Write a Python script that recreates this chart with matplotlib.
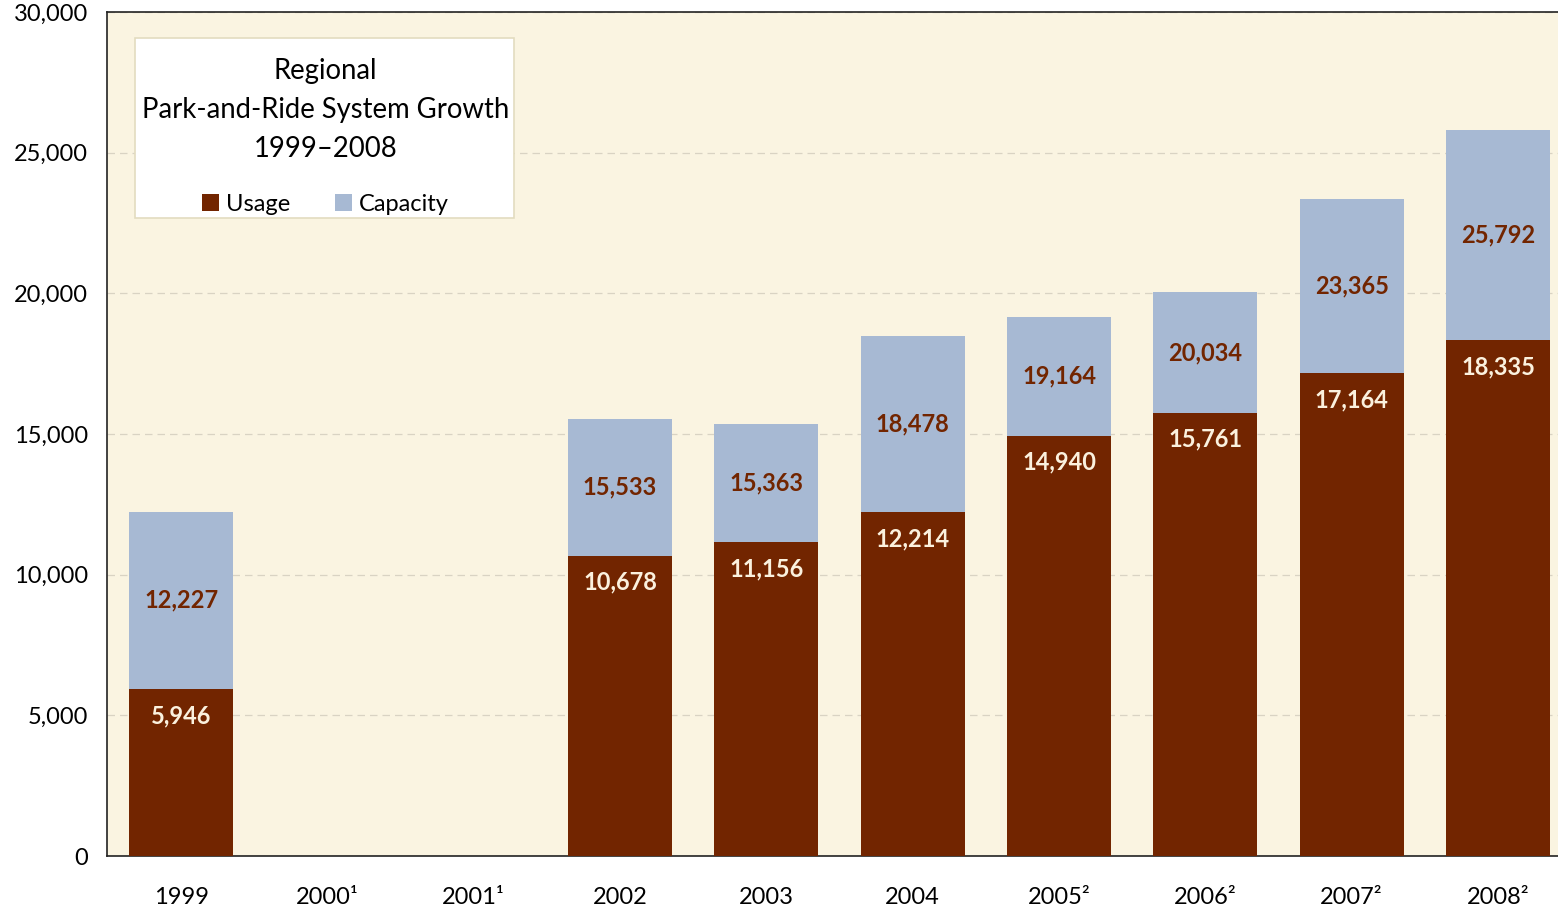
import numpy as np
import matplotlib.pyplot as plt
from matplotlib.patches import Rectangle

years = ['1999', '2000¹', '2001¹', '2002', '2003', '2004', '2005²', '2006²', '2007²', '2008²']
usage = [5946, np.nan, np.nan, 10678, 11156, 12214, 14940, 15761, 17164, 18335]
capacity = [12227, np.nan, np.nan, 15533, 15363, 18478, 19164, 20034, 23365, 25792]

usage_col = '#722500'
cap_col = '#A7B9D3'
bg_col = '#FAF4E1'

plt.rcParams['font.family'] = ['Lato', 'DejaVu Sans']

fig = plt.figure(figsize=(15.58, 9.09), dpi=100)
ax = fig.add_axes([0.0687, 0.0583, 0.9313, 0.9285])
ax.set_facecolor(bg_col)

x = np.arange(len(years))
cap_vals = np.nan_to_num(capacity)
use_vals = np.nan_to_num(usage)
bc = ax.bar(x, cap_vals, width=0.71, color=cap_col, label='Capacity', zorder=2)
bu = ax.bar(x, use_vals, width=0.71, color=usage_col, label='Usage', zorder=3)

for i in range(len(years)):
    if np.isnan(usage[i]):
        continue
    ax.text(x[i], (usage[i] + capacity[i]) / 2, f'{capacity[i]:,.0f}', ha='center', va='center',
            color=usage_col, fontsize=17, fontweight='bold', zorder=4)
    ax.text(x[i], usage[i] - 950, f'{usage[i]:,.0f}', ha='center', va='center',
            color='#FBF1DE', fontsize=17, fontweight='bold', zorder=4)

ax.set_ylim(0, 30000)
ax.set_xlim(-0.506, 9.41)
ax.set_yticks(range(0, 30001, 5000))
ax.set_yticklabels([f'{v:,}' for v in range(0, 30001, 5000)])
ax.set_xticks(x)
ax.set_xticklabels(years)
ax.tick_params(axis='y', length=0, pad=13.5, labelsize=17)
ax.tick_params(axis='x', length=0, pad=22, labelsize=17)
ax.yaxis.grid(True, color='#D9D3C3', linestyle=(0, (6, 4)), linewidth=0.9, zorder=0)
ax.set_axisbelow(True)
for s in ['left', 'bottom', 'top']:
    ax.spines[s].set_color('#222222')
    ax.spines[s].set_linewidth(1.2)
ax.spines['right'].set_visible(False)

# legend box drawn separately so the padding matches
box = Rectangle((0.0193, 0.7559), 0.2612, 0.2133, transform=ax.transAxes,
                facecolor='white', edgecolor='#E3DCC0', linewidth=1.2, zorder=6)
ax.add_patch(box)

leg = ax.legend(handles=[bu, bc], title='Regional\nPark-and-Ride System Growth\n1999–2008',
                ncol=2, loc='upper center', bbox_to_anchor=(0.1505, 0.946),
                fontsize=17, title_fontsize=19.8, frameon=False,
                handlelength=0.7, handleheight=0.7, handletextpad=0.3,
                columnspacing=1.9, borderpad=0, borderaxespad=0)
leg.set_zorder(7)
leg.get_title().set_multialignment('center')
leg.get_title().set_linespacing(1.62)
leg._legend_box.sep = 23

fig.savefig('out.png', dpi=100)
